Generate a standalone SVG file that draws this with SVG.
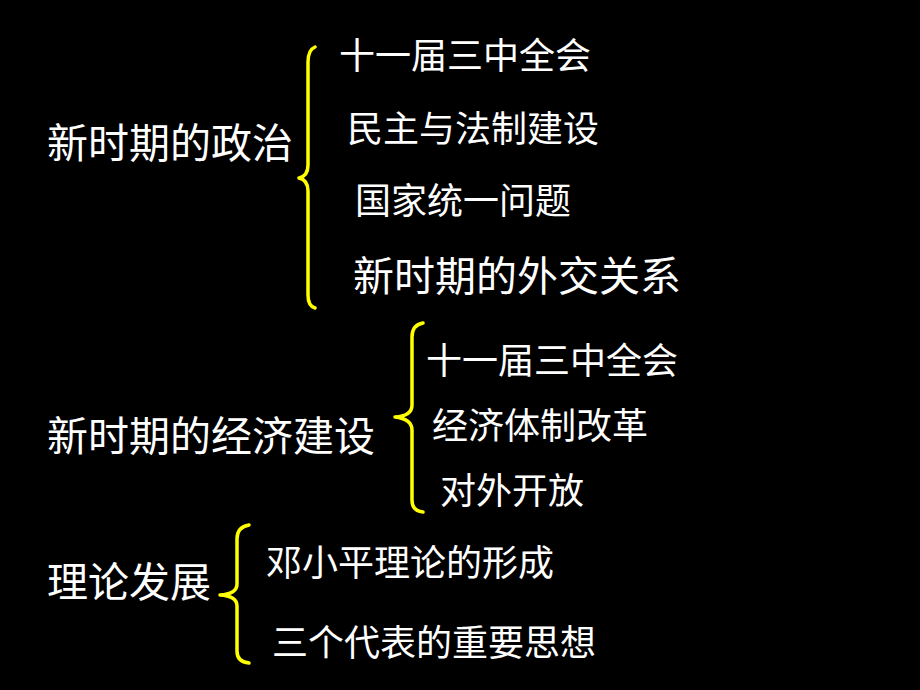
<svg xmlns="http://www.w3.org/2000/svg" width="920" height="690" viewBox="0 0 920 690">
<style>
.t{font-family:"Noto Sans CJK SC","Noto Sans CJK JP",sans-serif;fill:#ffffff;}
.h{font-size:41px;}
.s{font-size:36px;}
.b{fill:none;stroke:#ffff00;stroke-width:3.5;stroke-linecap:round;stroke-linejoin:round;}
</style>
<rect width="920" height="690" fill="#000000"/>
<g id="politics">
<text class="t h" x="47" y="158">新时期的政治</text>
</g>
<g id="p1"><text class="t s" x="339" y="69">十一届三中全会</text></g>
<g id="p2"><text class="t s" x="347" y="142">民主与法制建设</text></g>
<g id="p3"><text class="t s" x="355" y="214">国家统一问题</text></g>
<g id="p4"><text class="t h" x="353" y="291">新时期的外交关系</text></g>
<g id="economy">
<text class="t h" x="47" y="451">新时期的经济建设</text>
</g>
<g id="e1"><text class="t s" x="426" y="374">十一届三中全会</text></g>
<g id="e2"><text class="t s" x="432" y="439">经济体制改革</text></g>
<g id="e3"><text class="t s" x="440" y="504">对外开放</text></g>
<g id="theory">
<text class="t h" x="47" y="597">理论发展</text>
</g>
<g id="th1"><text class="t s" x="266" y="576">邓小平理论的形成</text></g>
<g id="th2"><text class="t s" x="272" y="656">三个代表的重要思想</text></g>
<g id="connectors">
<path class="b" d="M315,47 Q308,50 308,62 L308,165 Q308,176 299,178 Q308,180 308,191 L308,295 Q308,306 315,308"/>
<path class="b" d="M423,323 Q412,325 412,337 L412,405 Q412,416 395,417 Q412,419 412,430 L412,500 Q412,511 423,512"/>
<path class="b" d="M249,525 Q237,527 237,539 L237,584 Q237,594 220,595 Q237,596 237,606 L237,651 Q237,662 249,663"/>
</g>
</svg>
